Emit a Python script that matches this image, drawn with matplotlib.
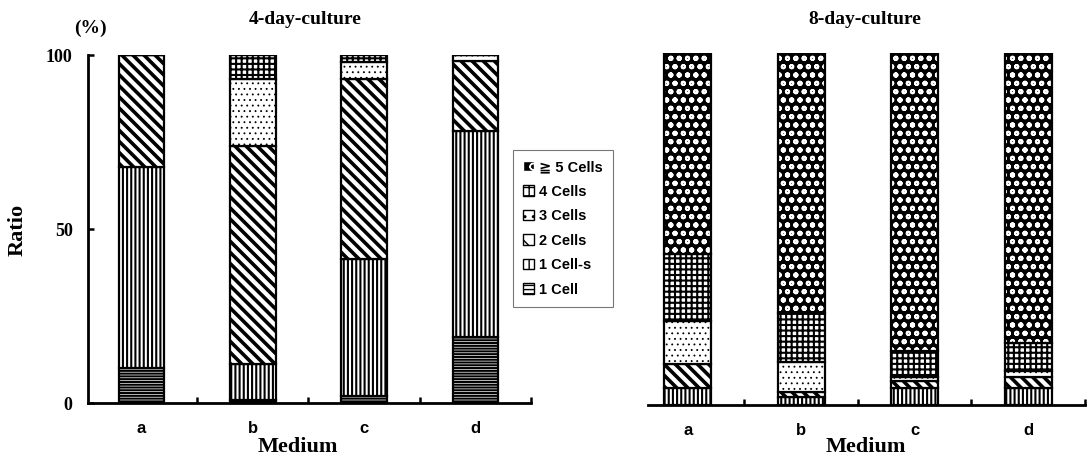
import matplotlib
matplotlib.use("Agg")
import matplotlib.pyplot as plt
from matplotlib.patches import Patch
import numpy as np

categories = ['a', 'b', 'c', 'd']
series_labels = ['1 Cell', '1 Cell-s', '2 Cells', '3 Cells', '4 Cells', '\u2267 5 Cells']

# 4-day culture (% per medium)
d4_one_cell = [10.0, 1.0, 2.0, 18.9]
d4_one_cell_s = [57.9, 10.2, 39.3, 59.3]
d4_two_cells = [32.1, 62.7, 51.9, 20.1]
d4_three_cells = [0.0, 19.1, 4.8, 1.7]
d4_four_cells = [0.0, 7.0, 2.0, 0.0]
d4_five_plus = [0.0, 0.0, 0.0, 0.0]

# 8-day culture (% per medium)
d8_one_cell = [0.0, 0.0, 0.0, 0.0]
d8_one_cell_s = [4.7, 2.4, 4.7, 4.7]
d8_two_cells = [7.0, 1.4, 2.1, 3.3]
d8_three_cells = [12.3, 8.5, 1.2, 1.8]
d8_four_cells = [18.9, 13.9, 7.4, 7.9]
d8_five_plus = [57.1, 73.8, 84.6, 82.3]

yticks = [0, 50, 100]

# style per series: (facecolor, hatch colour, hatch, hatch linewidth)
styles = [
    ('white', 'black', '------', 1.5),
    ('white', 'black', '||||', 1.5),
    ('white', 'black', '\\\\\\', 2.6),
    ('white', 'black', '...', 0.6),
    ('white', 'black', '+++', 1.5),
    ('black', 'white', 'oo', 1.4),
]
legend_hatches = ['----', '||', '\\\\', '..', '++', 'o']
legend_hlw = [1.5, 1.8, 2.0, 0.8, 1.6, 1.6]

W, H = 1088, 458
fig = plt.figure(figsize=(W / 100, H / 100), dpi=100)

serif = ['Liberation Serif', 'DejaVu Serif']
sans = ['Liberation Sans Narrow', 'Liberation Sans', 'DejaVu Sans', 'Noto Sans CJK JP']


def set_hlw(patch, lw):
    if hasattr(patch, 'set_hatch_linewidth'):
        patch.set_hatch_linewidth(lw)


def draw_panel(ax, data, xlim):
    x = np.arange(len(categories))
    bottom = np.zeros(len(categories))
    for vals, (fc, hc, hatch, hlw) in zip(data, styles):
        vals = np.asarray(vals, dtype=float)
        with plt.rc_context({'hatch.linewidth': hlw}):
            bars = ax.bar(x, vals, width=0.41, bottom=bottom, color=fc,
                          edgecolor=hc, hatch=hatch, linewidth=0)
        for p in bars:
            set_hlw(p, hlw)
        ax.bar(x, vals, width=0.41, bottom=bottom, facecolor='none',
               edgecolor='black', linewidth=1.6)
        bottom += vals
    ax.set_xlim(*xlim)
    ax.set_ylim(0, 100)
    ax.set_xticks(x)
    ax.set_xticklabels(categories, family=sans, fontsize=12, fontweight='bold')
    ax.tick_params(axis='x', which='major', length=0, pad=13)
    ax.set_xticks(np.arange(0.5, len(categories), 1.0), minor=True)
    ax.tick_params(axis='x', which='minor', direction='in', length=4, width=1.8)
    for s in ['top', 'right']:
        ax.spines[s].set_visible(False)
    ax.spines['bottom'].set_linewidth(2.0)


ax1 = fig.add_axes([88 / W, (H - 403) / H, (531 - 88) / W, 348 / H])
draw_panel(ax1, [d4_one_cell, d4_one_cell_s, d4_two_cells, d4_three_cells,
                 d4_four_cells, d4_five_plus], (-0.48, 3.5))
ax1.set_yticks(yticks)
ax1.set_yticklabels([str(v) for v in yticks], family=serif, fontsize=13,
                    fontweight='bold')
ax1.tick_params(axis='y', direction='in', length=4, width=1.8, pad=11)
ax1.spines['left'].set_linewidth(2.0)

ax2 = fig.add_axes([648 / W, (H - 405) / H, (1085 - 648) / W, 352 / H])
draw_panel(ax2, [d8_one_cell, d8_one_cell_s, d8_two_cells, d8_three_cells,
                 d8_four_cells, d8_five_plus], (-0.35, 3.5))
ax2.spines['left'].set_visible(False)
ax2.set_yticks([])

# titles and labels
fig.text(305 / W, 1 - 19 / H, '4-day-culture', family=serif, fontsize=14,
         fontweight='bold', ha='center', va='center')
fig.text(865 / W, 1 - 19 / H, '8-day-culture', family=serif, fontsize=14,
         fontweight='bold', ha='center', va='center')
fig.text(90 / W, 1 - 28 / H, '(%)', family=serif, fontsize=14,
         fontweight='bold', ha='center', va='center')
fig.text(18 / W, 1 - 230 / H, 'Ratio', family=serif, fontsize=16,
         fontweight='bold', ha='center', va='center', rotation=90)
fig.text(298 / W, 1 - 447 / H, 'Medium', family=serif, fontsize=16,
         fontweight='bold', ha='center', va='center')
fig.text(866 / W, 1 - 447 / H, 'Medium', family=serif, fontsize=16,
         fontweight='bold', ha='center', va='center')

# legend (reverse order, top = >=5 cells)
handles = []
for lab, (fc, hc, hatch, hlw), lh, llw in zip(series_labels, styles,
                                               legend_hatches, legend_hlw):
    with plt.rc_context({'hatch.linewidth': llw}):
        h = Patch(facecolor=fc, edgecolor=hc if fc == 'black' else 'black',
                  hatch=lh, linewidth=1.0, label=lab)
    set_hlw(h, llw)
    handles.append(h)
handles = handles[::-1]
leg = fig.legend(handles=handles, loc='upper left',
                 bbox_to_anchor=(513 / W, 1 - 150 / H),
                 prop={'family': sans, 'size': 10.5, 'weight': 'bold'},
                 handlelength=0.75, handleheight=0.75, handletextpad=0.35,
                 labelspacing=0.72, borderpad=0.7, borderaxespad=0,
                 fancybox=False, edgecolor='#777777', framealpha=1)
leg.get_frame().set_linewidth(0.8)

fig.savefig('out.png', dpi=100)
